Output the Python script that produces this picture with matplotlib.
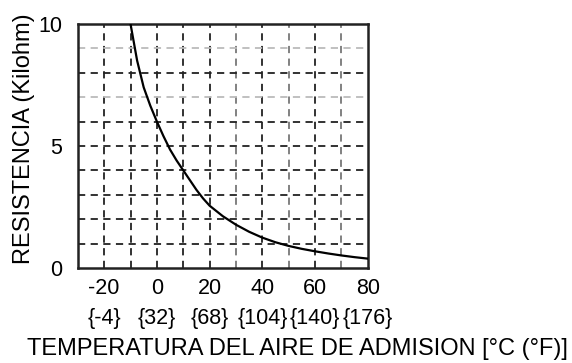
import matplotlib.pyplot as plt
import numpy as np

plt.rcParams['font.family'] = ['Liberation Sans', 'DejaVu Sans']

# curva
temp_c = [-10, -7.5, -5, -2.5, 0, 2.5, 5, 7.5, 10, 12.5, 15, 17.5, 20,
          25, 30, 35, 40, 45, 50, 55, 60, 65, 70, 75, 80]
resist = [10.0, 8.5, 7.4, 6.65, 6.0, 5.4, 4.85, 4.4, 4.0, 3.6, 3.2, 2.85, 2.55,
          2.12, 1.77, 1.48, 1.24, 1.05, 0.9, 0.78, 0.68, 0.59, 0.51, 0.44, 0.38]

xticks = [-20, 0, 20, 40, 60, 80]
xticks_f = ['{-4}', '{32}', '{68}', '{104}', '{140}', '{176}']
yticks = [0, 5, 10]

fig = plt.figure(figsize=(5.72, 3.63), dpi=100)
ax = fig.add_axes([0.136, 0.262, 0.507, 0.672])

# rejilla discontinua
for x in range(-20, 80, 10):
    col = '#777777' if x in (30, 50, 70) else '#222222'
    ax.axvline(x, color=col, lw=1.3, ls=(0, (4, 3)), zorder=1)
for y in range(1, 10):
    col = '#bbbbbb' if y in (7, 9) else '#222222'
    ax.axhline(y, color=col, lw=1.3, ls=(0, (4, 3)), zorder=1)

ax.plot(temp_c, resist, color='black', lw=1.6, zorder=3)

ax.set_xlim(-30, 80)
ax.set_ylim(0, 10)
ax.set_xticks(xticks)
ax.set_xticklabels([f'{c}\n{f}' for c, f in zip(xticks, xticks_f)], linespacing=1.6)
ax.set_yticks(yticks)
ax.tick_params(axis='x', length=0, pad=7, labelsize=15.5)
ax.tick_params(axis='y', length=0, pad=11, labelsize=15.5)
for s in ax.spines.values():
    s.set_linewidth(1.8)
    s.set_color('#222222')

fig.text(0.52, 0.022, 'TEMPERATURA DEL AIRE DE ADMISION [°C (°F)]',
         ha='center', va='baseline', fontsize=17)
fig.text(0.042, 0.617, 'RESISTENCIA (Kilohm)', rotation=90,
         ha='center', va='center', fontsize=17)

plt.savefig('out.png', dpi=100)
plt.close()
